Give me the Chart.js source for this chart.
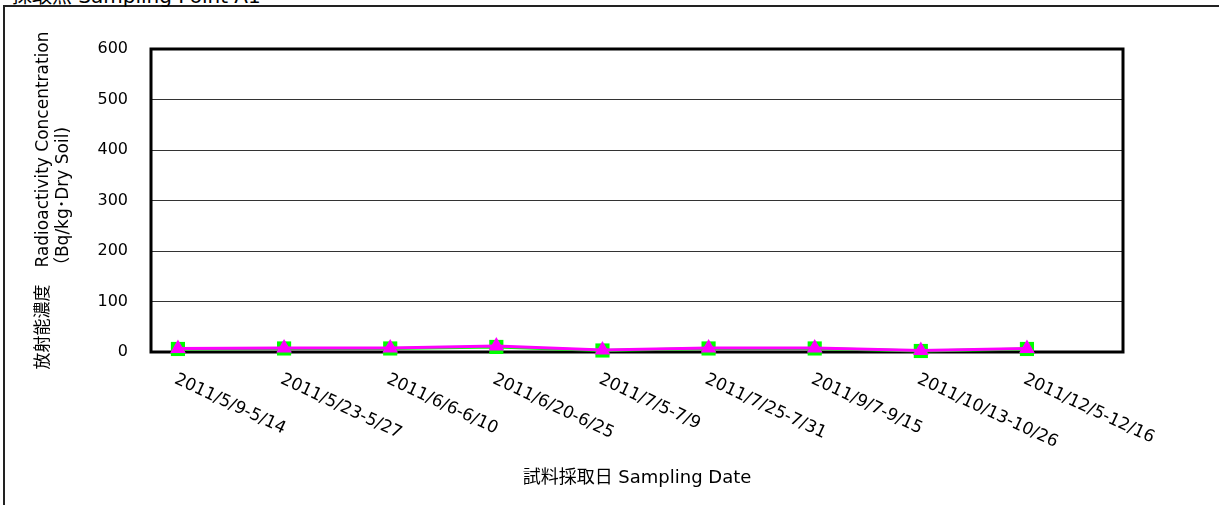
<!DOCTYPE html>
<html>
<head>
<meta charset="utf-8">
<script src="https://cdn.jsdelivr.net/npm/chart.js@4/dist/chart.umd.min.js"></script>
<style>
  html, body { margin: 0; padding: 0; background: #fff; }
  #wrap { position: relative; width: 1219px; height: 505px; overflow: hidden; }
  #frame { position: absolute; left: 3px; top: 5px; width: 1300px; height: 600px; border: 2px solid #222; }
  #title { position: absolute; left: 12px; top: -20px; font: 20px 'DejaVu Sans', 'Noto Sans CJK JP', sans-serif; color: #000; white-space: nowrap; }
  canvas { position: absolute; left: 0; top: 0; }
</style>
</head>
<body>
<div id="wrap">
  <div id="frame"></div>
  <div id="title">採取点 Sampling Point A1</div>
  <canvas id="soilChart" width="1219" height="505"></canvas>
</div>
<script>
// 試料採取日
const sampleDates = ['2011/5/9-5/14', '2011/5/23-5/27', '2011/6/6-6/10', '2011/6/20-6/25', '2011/7/5-7/9',
  '2011/7/25-7/31', '2011/9/7-9/15', '2011/10/13-10/26', '2011/12/5-12/16'];
// 放射能濃度 (Bq/kg・Dry Soil)
const cs134 = [6, 7, 7, 10, 3, 7, 7, 2, 6];
const cs137 = [7, 8, 8, 12, 4, 8, 8, 3, 7];
const yTicks = [0, 100, 200, 300, 400, 500, 600];

const FONT = "'DejaVu Sans', 'Noto Sans CJK JP', sans-serif";

const toPoints = arr => arr.map((v, i) => ({ x: i, y: v }));

// 枠と回転ラベル
const extras = {
  id: 'extras',
  beforeDatasetsDraw(chart) {
    const { ctx, chartArea: a } = chart;
    ctx.save();
    ctx.strokeStyle = '#000';
    ctx.lineWidth = 3;
    ctx.strokeRect(a.left, a.top, a.right - a.left, a.bottom - a.top);
    ctx.restore();
  },
  afterDraw(chart) {
    const { ctx } = chart;
    const xs = chart.scales.x;
    ctx.save();
    ctx.fillStyle = '#000';
    ctx.font = '17px ' + FONT;
    ctx.textAlign = 'left';
    ctx.textBaseline = 'top';
    sampleDates.forEach((lbl, i) => {
      const px = xs.getPixelForValue(i);
      ctx.save();
      ctx.translate(px + 1, 371);
      ctx.rotate(25 * Math.PI / 180);
      ctx.fillText(lbl, 0, 0);
      ctx.restore();
    });
    ctx.restore();
  }
};

const ctx = document.getElementById('soilChart').getContext('2d');
new Chart(ctx, {
  type: 'line',
  data: {
    datasets: [
      {
        label: 'Cs-134',
        data: toPoints(cs134),
        borderColor: '#00ff00',
        backgroundColor: '#00ff00',
        borderWidth: 3,
        pointStyle: 'rect',
        pointRadius: 10,
        pointBorderWidth: 0,
        clip: false,
        order: 2
      },
      {
        label: 'Cs-137',
        data: toPoints(cs137),
        borderColor: '#ff00ff',
        backgroundColor: '#ff00ff',
        borderWidth: 3,
        pointStyle: 'triangle',
        pointRadius: 9,
        pointBorderWidth: 0,
        clip: false,
        order: 1
      }
    ]
  },
  options: {
    responsive: false,
    animation: false,
    layout: { padding: { left: 0, top: 49, right: 96, bottom: 0 } },
    plugins: { legend: { display: false }, tooltip: { enabled: false } },
    scales: {
      x: {
        type: 'linear',
        min: -0.254,
        max: 8.905,
        ticks: { display: false },
        grid: { display: false },
        border: { display: false },
        title: {
          display: true,
          text: '試料採取日 Sampling Date',
          color: '#000',
          font: { family: FONT, size: 18 },
          padding: { top: 0, bottom: 16 }
        },
        afterFit(scale) { scale.height = 153; }
      },
      y: {
        min: 0,
        max: 600,
        afterBuildTicks(scale) { scale.ticks = yTicks.map(v => ({ value: v })); },
        ticks: {
          color: '#000',
          padding: 23,
          font: { family: FONT, size: 16 }
        },
        grid: { color: '#333', lineWidth: 1, drawTicks: false },
        border: { display: false },
        title: {
          display: true,
          text: ['放射能濃度　Radioactivity Concentration', '（Bq/kg･Dry Soil)'],
          color: '#000',
          font: { family: FONT, size: 17, lineHeight: 1.15 },
          padding: { top: 34, bottom: 0 }
        },
        afterFit(scale) { scale.width = 151; }
      }
    }
  },
  plugins: [extras]
});
</script>
</body>
</html>
